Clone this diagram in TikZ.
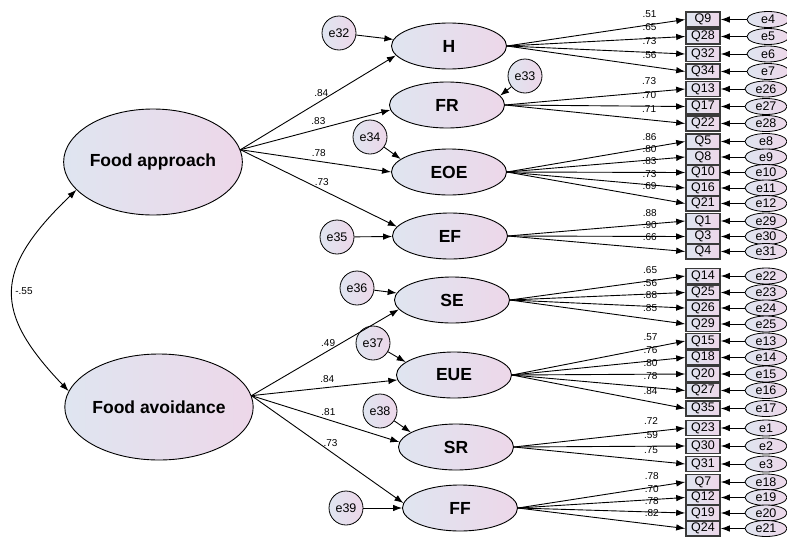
\documentclass[tikz,border=0pt]{standalone}
\usepackage{fontspec}
\setmainfont{Liberation Sans}
\usetikzlibrary{shapes.geometric,arrows.meta}
\definecolor{shadeL}{HTML}{DFE5F0}
\definecolor{shadeR}{HTML}{EDD7E9}
\definecolor{boxline}{HTML}{3A3A3A}

\begin{document}
\begin{tikzpicture}[x=1pt,y=-1pt,
        latent/.style={ellipse,draw,line width=0.9pt,left color=shadeL,right color=shadeR,
            inner sep=0pt,minimum width=115pt,minimum height=46pt,
            font=\fontsize{17.5}{17.5}\selectfont\bfseries},
        factor/.style={latent,minimum width=159pt,minimum height=106pt},
        ind/.style={rectangle,draw=boxline,line width=1.6pt,left color=shadeL,right color=shadeR,
            minimum width=34pt,minimum height=15pt,inner sep=0pt,font=\fontsize{12.5}{12.5}\selectfont},
        err/.style={ellipse,draw,line width=0.8pt,left color=shadeL,right color=shadeR,
            minimum width=42pt,minimum height=16pt,inner sep=0pt,font=\fontsize{12.5}{12.5}\selectfont},
        res/.style={circle,draw,line width=0.8pt,left color=shadeL,right color=shadeR,
            minimum size=34pt,inner sep=0pt,font=\fontsize{12.5}{12.5}\selectfont},
        every edge/.style={draw,line width=0.9pt,-{Latex[length=9pt,width=6.5pt]}},
        coef/.style={font=\fontsize{10}{10}\selectfont,inner sep=1pt,pos=.52,above=3pt},
        load/.style={coef,pos=.8,above=3pt}]
    \useasboundingbox (0,0) rectangle (787,536);

    \node[factor] (fa) at (153,162) {Food approach};
    \node[factor] (fv) at (159,407) {Food avoidance};

    \node[latent] (H) at (449,46) {H};
    \node[latent] (FR) at (447,105) {FR};
    \node[latent] (EOE) at (449,172) {EOE};
    \node[latent] (EF) at (450,236) {EF};
    \node[latent] (SE) at (452,300) {SE};
    \node[latent] (EUE) at (454,375) {EUE};
    \node[latent] (SR) at (456,447) {SR};
    \node[latent] (FF) at (460,508) {FF};

    \begin{scope}[every node/.style={res}]
        \node (e32) at (339,33) {e32};
        \node (e33) at (525,76) {e33};
        \node (e34) at (370,137) {e34};
        \node (e35) at (337,237) {e35};
        \node (e36) at (357,288) {e36};
        \node (e37) at (373,343) {e37};
        \node (e38) at (380,411) {e38};
        \node (e39) at (346,508) {e39};
    \end{scope}

    \begin{scope}[every node/.style={ind}]
        \node (Q9) at (703,19.5) {Q9};
        \node (Q28) at (703,36.5) {Q28};
        \node (Q32) at (703,54) {Q32};
        \node (Q34) at (703,71.5) {Q34};
        \node (Q13) at (703,89) {Q13};
        \node (Q17) at (703,106.5) {Q17};
        \node (Q22) at (703,123.5) {Q22};
        \node (Q5) at (703,141.5) {Q5};
        \node (Q8) at (703,157) {Q8};
        \node (Q10) at (703,172.5) {Q10};
        \node (Q16) at (703,188) {Q16};
        \node (Q21) at (703,203.5) {Q21};
        \node (Q1) at (703,221) {Q1};
        \node (Q3) at (703,236.5) {Q3};
        \node (Q4) at (703,251.5) {Q4};
        \node (Q14) at (703,276) {Q14};
        \node (Q25) at (703,292.5) {Q25};
        \node (Q26) at (703,308) {Q26};
        \node (Q29) at (703,324) {Q29};
        \node (Q15) at (703,341) {Q15};
        \node (Q18) at (703,357.5) {Q18};
        \node (Q20) at (703,374) {Q20};
        \node (Q27) at (703,390.5) {Q27};
        \node (Q35) at (703,408.5) {Q35};
        \node (Q23) at (703,428) {Q23};
        \node (Q30) at (703,446) {Q30};
        \node (Q31) at (703,464) {Q31};
        \node (Q7) at (703,482) {Q7};
        \node (Q12) at (703,497.5) {Q12};
        \node (Q19) at (703,513) {Q19};
        \node (Q24) at (703,528.5) {Q24};
    \end{scope}

    \begin{scope}[every node/.style={err}]
        \node (e4) at (768,19.5) {e4};
        \node (e5) at (768,36.5) {e5};
        \node (e6) at (768,54) {e6};
        \node (e7) at (768,71.5) {e7};
        \node (e26) at (766,89) {e26};
        \node (e27) at (766,106.5) {e27};
        \node (e28) at (766,123.5) {e28};
        \node (e8) at (766,141.5) {e8};
        \node (e9) at (766,157) {e9};
        \node (e10) at (766,172.5) {e10};
        \node (e11) at (766,188) {e11};
        \node (e12) at (766,203.5) {e12};
        \node (e29) at (766,221) {e29};
        \node (e30) at (766,236.5) {e30};
        \node (e31) at (766,251.5) {e31};
        \node (e22) at (766,276) {e22};
        \node (e23) at (766,292.5) {e23};
        \node (e24) at (766,308) {e24};
        \node (e25) at (766,324) {e25};
        \node (e13) at (766,341) {e13};
        \node (e14) at (766,357.5) {e14};
        \node (e15) at (766,374) {e15};
        \node (e16) at (766,390.5) {e16};
        \node (e17) at (766,408.5) {e17};
        \node (e1) at (766,428) {e1};
        \node (e2) at (766,446) {e2};
        \node (e3) at (766,464) {e3};
        \node (e18) at (766,482) {e18};
        \node (e19) at (766,497.5) {e19};
        \node (e20) at (766,513) {e20};
        \node (e21) at (766,528.5) {e21};
    \end{scope}

    \draw[line width=0.9pt,{Latex[length=9pt,width=6.5pt]}-{Latex[length=9pt,width=6.5pt]}]
        (fa.200) .. controls (-7,270) and (-7,312) .. (fv.170)
        node[pos=.5,right,inner sep=2pt,font=\fontsize{10}{10}\selectfont] {-.55};

    \path (fa.8) edge node[coef] {.84} (H.190);
    \path (fa.8) edge node[coef] {.83} (FR.185);
    \path (fa.8) edge node[coef] {.78} (EOE.west);
    \path (fa.8) edge node[coef] {.73} (EF.170);
    \path (fv.7) edge node[coef] {.49} (SE.190);
    \path (fv.7) edge node[coef] {.84} (EUE.185);
    \path (fv.7) edge node[coef] {.81} (SR.175);
    \path (fv.7) edge node[coef] {.73} (FF.175);

    \path (e32) edge (H);
    \path (e33) edge (FR.10);
    \path (e34) edge (EOE.165);
    \path (e35) edge (EF);
    \path (e36) edge (SE);
    \path (e37) edge (EUE.165);
    \path (e38) edge (SR.162);
    \path (e39) edge (FF);

    \path (H.east) edge node[load] {.51} (Q9.west)
        edge node[load] {.65} (Q28.west)
        edge node[load] {.73} (Q32.west)
        edge node[load] {.56} (Q34.west);
    \path (FR.east) edge node[load] {.73} (Q13.west)
        edge node[load] {.70} (Q17.west)
        edge node[load] {.71} (Q22.west);
    \path (EOE.east) edge node[load] {.86} (Q5.west)
        edge node[load] {.80} (Q8.west)
        edge node[load] {.83} (Q10.west)
        edge node[load] {.73} (Q16.west)
        edge node[load] {.69} (Q21.west);
    \path (EF.east) edge node[load] {.88} (Q1.west)
        edge node[load] {.90} (Q3.west)
        edge node[load] {.66} (Q4.west);
    \path (SE.east) edge node[load] {.65} (Q14.west)
        edge node[load] {.56} (Q25.west)
        edge node[load] {.88} (Q26.west)
        edge node[load] {.85} (Q29.west);
    \path (EUE.east) edge node[load] {.57} (Q15.west)
        edge node[load] {.76} (Q18.west)
        edge node[load] {.80} (Q20.west)
        edge node[load] {.78} (Q27.west)
        edge node[load] {.84} (Q35.west);
    \path (SR.east) edge node[load] {.72} (Q23.west)
        edge node[load] {.59} (Q30.west)
        edge node[load] {.75} (Q31.west);
    \path (FF.east) edge node[load] {.78} (Q7.west)
        edge node[load] {.70} (Q12.west)
        edge node[load] {.78} (Q19.west)
        edge node[load] {.82} (Q24.west);

    \path (e4) edge (Q9); \path (e5) edge (Q28); \path (e6) edge (Q32); \path (e7) edge (Q34);
    \path (e26) edge (Q13); \path (e27) edge (Q17); \path (e28) edge (Q22);
    \path (e8) edge (Q5); \path (e9) edge (Q8); \path (e10) edge (Q10);
    \path (e11) edge (Q16); \path (e12) edge (Q21);
    \path (e29) edge (Q1); \path (e30) edge (Q3); \path (e31) edge (Q4);
    \path (e22) edge (Q14); \path (e23) edge (Q25); \path (e24) edge (Q26); \path (e25) edge (Q29);
    \path (e13) edge (Q15); \path (e14) edge (Q18); \path (e15) edge (Q20);
    \path (e16) edge (Q27); \path (e17) edge (Q35);
    \path (e1) edge (Q23); \path (e2) edge (Q30); \path (e3) edge (Q31);
    \path (e18) edge (Q7); \path (e19) edge (Q12); \path (e20) edge (Q19); \path (e21) edge (Q24);
\end{tikzpicture}
\end{document}
